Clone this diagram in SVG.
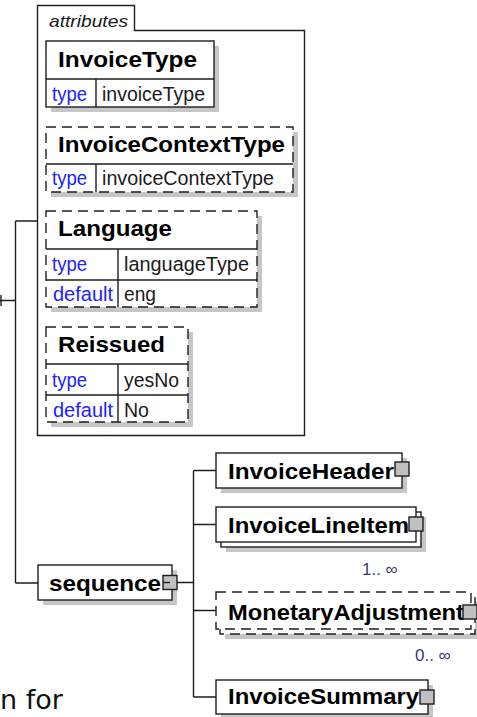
<svg xmlns="http://www.w3.org/2000/svg" width="477" height="717" viewBox="0 0 477 717">
<style>
.bx{fill:#fff;stroke:#1e1e1e;stroke-width:1.4}
.dsh{stroke-dasharray:10 6}
.sh{fill:#c6c6c6}
.ln{stroke:#1e1e1e;stroke-width:1.4;fill:none}
.sq{fill:#c0c0c0;stroke:#1e1e1e;stroke-width:1.4}
.tt{font-family:"Liberation Sans",Arial,sans-serif;font-weight:bold;font-size:22.5px;fill:#000}
.k{font-family:"Liberation Sans",Arial,sans-serif;font-size:20.5px;fill:#2222ff}
.v{font-family:"Liberation Sans",Arial,sans-serif;font-size:20.5px;fill:#1a1a1a}
.m{font-family:"Liberation Sans",Arial,sans-serif;font-size:17px;fill:#3a3a70}
</style>
<rect width="477" height="717" fill="#fff"/>
<g id="connectors">
<path class="ln" d="M0,300.5 H15.5 M1,295 V306 M15.5,221 V583 M15.5,221 H37.5 M15.5,583 H38"/>
<path class="ln" d="M177,582.5 H193.5 M193.5,470.5 V697 M193.5,470.5 H216 M193.5,524.5 H216 M193.5,610.5 H216 M193.5,697 H216"/>
</g>
<g id="attributes">
<path class="bx" d="M37.5,5.5 H134.5 V30.5 H304.5 V435.5 H37.5 Z"/>
<text x="49" y="27" font-family="Liberation Sans,Arial,sans-serif" font-style="italic" font-size="16.5" fill="#1a1a1a" textLength="79" lengthAdjust="spacingAndGlyphs">attributes</text>
</g>
<g id="InvoiceType">
<rect class="sh" x="51" y="46" width="168" height="66"/>
<rect class="bx" x="46" y="41" width="168" height="66"/>
<path class="ln" d="M46,79 H214 M96,79 V107"/>
<text class="tt" x="58" y="67" textLength="139" lengthAdjust="spacingAndGlyphs">InvoiceType</text>
<text class="k" x="52" y="101" textLength="35" lengthAdjust="spacingAndGlyphs">type</text>
<text class="v" x="102" y="101" textLength="103" lengthAdjust="spacingAndGlyphs">invoiceType</text>
</g>
<g id="InvoiceContextType">
<rect class="sh" x="51" y="132" width="247" height="65"/>
<rect class="bx dsh" x="46" y="127" width="247" height="65"/>
<path class="ln" d="M46,164 H293 M96,164 V192"/>
<text class="tt" x="58" y="152" textLength="227" lengthAdjust="spacingAndGlyphs">InvoiceContextType</text>
<text class="k" x="52" y="185" textLength="35" lengthAdjust="spacingAndGlyphs">type</text>
<text class="v" x="102" y="185" textLength="172" lengthAdjust="spacingAndGlyphs">invoiceContextType</text>
</g>
<g id="Language">
<rect class="sh" x="51" y="216" width="211" height="96"/>
<rect class="bx dsh" x="46" y="211" width="211" height="96"/>
<path class="ln" d="M46,249 H257 M46,280 H257 M118,249 V307"/>
<text class="tt" x="58" y="236" textLength="114" lengthAdjust="spacingAndGlyphs">Language</text>
<text class="k" x="52" y="271" textLength="35" lengthAdjust="spacingAndGlyphs">type</text>
<text class="v" x="124" y="271" textLength="125" lengthAdjust="spacingAndGlyphs">languageType</text>
<text class="k" x="53" y="301" textLength="60" lengthAdjust="spacingAndGlyphs">default</text>
<text class="v" x="124" y="301" textLength="32" lengthAdjust="spacingAndGlyphs">eng</text>
</g>
<g id="Reissued">
<rect class="sh" x="51" y="332" width="142" height="95"/>
<rect class="bx dsh" x="46" y="327" width="142" height="95"/>
<path class="ln" d="M46,364 H188 M46,395 H188 M118,364 V422"/>
<text class="tt" x="58" y="352" textLength="107" lengthAdjust="spacingAndGlyphs">Reissued</text>
<text class="k" x="52" y="387" textLength="35" lengthAdjust="spacingAndGlyphs">type</text>
<text class="v" x="124" y="387" textLength="55" lengthAdjust="spacingAndGlyphs">yesNo</text>
<text class="k" x="53" y="417" textLength="60" lengthAdjust="spacingAndGlyphs">default</text>
<text class="v" x="124" y="417" textLength="25" lengthAdjust="spacingAndGlyphs">No</text>
</g>
<g id="sequence">
<rect class="sh" x="43" y="570" width="134" height="35"/>
<rect class="bx" x="38" y="565" width="134" height="35"/>
<text class="tt" x="49" y="591" textLength="112" lengthAdjust="spacingAndGlyphs">sequence</text>
<rect class="sq" x="163" y="575.5" width="14" height="14"/>
<path class="ln" d="M163,582.5 H170"/>
</g>
<g id="InvoiceHeader">
<rect class="sh" x="221" y="458" width="186" height="35"/>
<rect class="bx" x="216" y="453" width="186" height="35"/>
<text class="tt" x="228" y="479" textLength="166" lengthAdjust="spacingAndGlyphs">InvoiceHeader</text>
<rect class="sq" x="395" y="462" width="14" height="14"/>
</g>
<g id="InvoiceLineItem">
<rect class="sh" x="226" y="517" width="200" height="35"/>
<rect class="bx" x="221" y="512" width="200" height="35"/>
<rect class="bx" x="216" y="507" width="200" height="35"/>
<text class="tt" x="228" y="533" textLength="181" lengthAdjust="spacingAndGlyphs">InvoiceLineItem</text>
<rect class="sq" x="409" y="517" width="14" height="14"/>
<text class="m" x="362" y="575">1.. ∞</text>
</g>
<g id="MonetaryAdjustment">
<rect class="sh" x="225" y="601" width="255" height="38"/>
<rect class="bx dsh" x="220" y="596" width="255" height="38"/>
<rect class="bx dsh" x="216" y="592" width="255" height="37"/>
<text class="tt" x="228" y="620" textLength="236" lengthAdjust="spacingAndGlyphs">MonetaryAdjustment</text>
<rect class="sq" x="463" y="605" width="14" height="14"/>
<text class="m" x="415" y="661">0.. ∞</text>
</g>
<g id="InvoiceSummary">
<rect class="sh" x="221" y="685" width="212" height="34"/>
<rect class="bx" x="216" y="680" width="212" height="34"/>
<text class="tt" x="228" y="704" textLength="191" lengthAdjust="spacingAndGlyphs">InvoiceSummary</text>
<rect class="sq" x="420" y="690" width="14" height="14"/>
</g>
<text x="0" y="709" font-family="DejaVu Sans,Verdana,sans-serif" font-size="27" fill="#111">n for</text>
</svg>
